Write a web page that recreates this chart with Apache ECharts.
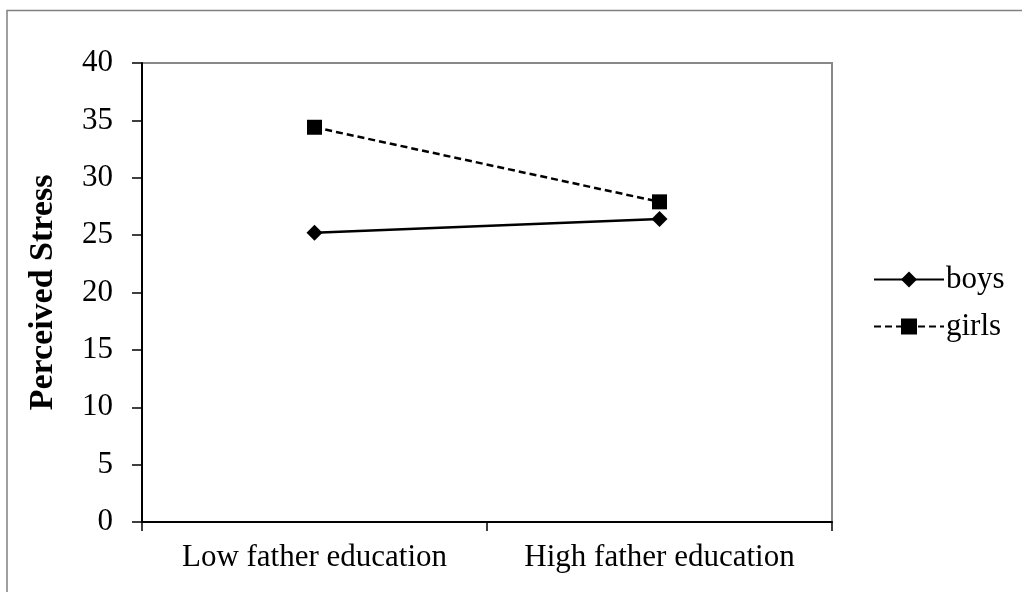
<!DOCTYPE html>
<html>
<head>
<meta charset="utf-8">
<script src="https://cdn.jsdelivr.net/npm/echarts@6/dist/echarts.min.js"></script>
<style>
html,body{margin:0;padding:0;background:#fff;}
#c{width:1022px;height:592px;}
</style>
</head>
<body>
<div id="c"></div>
<script>
const categories = ['Low father education', 'High father education'];
const boys = [25.2, 26.4];
const girls = [34.4, 27.9];
const yTicks = [0, 5, 10, 15, 20, 25, 30, 35, 40];

const font = '"Liberation Serif", "Times New Roman", serif';
const chart = echarts.init(document.getElementById('c'));
chart.setOption({
  animation: false,
  backgroundColor: '#fff',
  graphic: [
    { type: 'rect', shape: { x: 7, y: 10.5, width: 1100, height: 700 }, style: { fill: 'none', stroke: '#808080', lineWidth: 1.5 }, z: 0 },
    { type: 'polyline', shape: { points: [[142, 63], [832, 63], [832, 522]] }, style: { fill: 'none', stroke: '#888', lineWidth: 2 }, z: 0 }
  ],
  grid: { left: 142, right: 190, top: 63, bottom: 70, containLabel: false },
  legend: {
    orient: 'vertical',
    left: 868,
    top: 259,
    itemWidth: 70,
    itemHeight: 20,
    itemGap: 16,
    textStyle: { fontFamily: font, fontSize: 31, color: '#000', padding: [0, 0, 0, -3] },
    data: ['boys', 'girls']
  },
  xAxis: {
    type: 'category',
    data: categories,
    boundaryGap: true,
    axisLine: { lineStyle: { color: '#000', width: 2 } },
    axisTick: { show: true, interval: 0, length: 9, lineStyle: { color: '#000', width: 1.5 } },
    axisLabel: { interval: 0, hideOverlap: false, fontFamily: font, fontSize: 31, color: '#000', margin: 20 },
    splitLine: { show: false }
  },
  yAxis: {
    type: 'value',
    min: 0, max: 40, interval: 5,
    name: 'Perceived Stress',
    nameLocation: 'middle',
    nameRotate: 90,
    nameGap: 82,
    nameTextStyle: { fontFamily: font, fontSize: 34, fontWeight: 'bold', color: '#000' },
    axisLine: { show: true, lineStyle: { color: '#000', width: 2 } },
    axisTick: { show: true, length: 10, lineStyle: { color: '#000', width: 1.5 } },
    axisLabel: { fontFamily: font, fontSize: 31, color: '#000', margin: 29,
      formatter: v => yTicks.includes(v) ? String(v) : '' },
    splitLine: { show: false }
  },
  series: [
    {
      name: 'boys', type: 'line', data: boys,
      symbol: 'diamond', symbolSize: 16,
      lineStyle: { color: '#000', width: 2.5, type: 'solid' },
      itemStyle: { color: '#000' }
    },
    {
      name: 'girls', type: 'line', data: girls,
      symbol: 'rect', symbolSize: 15,
      lineStyle: { color: '#000', width: 2.5, type: [7, 4] },
      itemStyle: { color: '#000' }
    }
  ]
});
</script>
</body>
</html>
